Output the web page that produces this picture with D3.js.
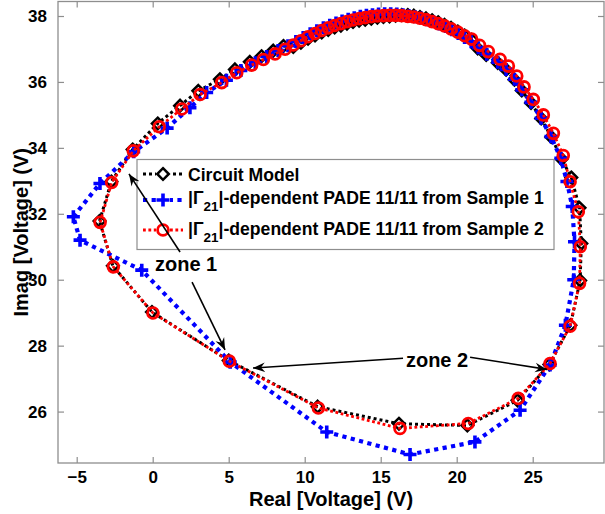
<!DOCTYPE html>
<html>
<head>
<meta charset="utf-8">
<script src="https://cdn.jsdelivr.net/npm/d3@7"></script>
<style>
  body { margin: 0; background: #fff; }
  svg { display: block; font-family: "Liberation Sans", Arial, Helvetica, sans-serif; font-weight: bold; }
</style>
</head>
<body>
<svg id="chart" width="605" height="514"></svg>
<script>
// Axis setup
const xTicks = [-5, 0, 5, 10, 15, 20, 25];
const yTicks = [26, 28, 30, 32, 34, 36, 38];
const xDomain = [-6.23, 29.69];
const yDomain = [24.44, 38.44];
const xLabel = "Real [Voltage] (V)";
const yLabel = "Imag [Voltage] (V)";

// Circuit model response (closed loop, real vs imaginary part)
const circuitX = [-3.50, -2.72, -1.32, 0.33, 1.80, 3.00, 4.42, 5.41, 6.39, 7.16, 7.93, 8.60,
  9.25, 9.75, 10.22, 10.68, 11.12, 11.55, 11.97, 12.38, 12.78, 13.18, 13.58, 13.98, 14.38, 14.78,
  15.18, 15.58, 15.98, 16.38, 16.78, 17.18, 17.58, 17.98, 18.38, 18.78, 19.20, 19.63, 20.07, 20.52,
  20.98, 21.38, 21.94, 22.70, 23.25, 23.80, 24.28, 24.89, 25.56, 26.22, 26.90, 27.54, 28.08, 28.20,
  28.12, 27.48, 26.10, 24.00, 20.70, 16.20, 10.85, 5.00, -0.05, -2.62];
const circuitY = [31.78, 32.98, 33.95, 34.74, 35.28, 35.73, 36.08, 36.38, 36.61, 36.78, 36.95, 37.09,
  37.06, 37.19, 37.31, 37.41, 37.50, 37.58, 37.65, 37.71, 37.77, 37.82, 37.86, 37.89, 37.92, 37.95,
  37.97, 37.99, 38.01, 38.03, 38.03, 38.01, 37.97, 37.93, 37.87, 37.81, 37.73, 37.64, 37.53, 37.41,
  37.28, 37.02, 36.82, 36.58, 36.37, 36.07, 35.74, 35.36, 34.89, 34.33, 33.66, 33.10, 32.18, 31.10,
  29.98, 28.62, 27.43, 26.34, 25.58, 25.63, 26.15, 27.55, 29.02, 30.42];

// PADE 11/11 fitted from sample 1
const sample1X = [-5.22, -3.47, -1.25, 0.95, 2.45, 3.55, 4.85, 5.80, 6.75, 7.50, 8.25, 8.90,
  9.42, 9.90, 10.36, 10.80, 11.23, 11.65, 12.06, 12.46, 12.86, 13.26, 13.66, 14.06, 14.46, 14.86,
  15.26, 15.66, 16.06, 16.46, 16.86, 17.26, 17.66, 18.06, 18.46, 18.86, 19.27, 19.68, 20.10, 20.52,
  20.95, 21.42, 21.98, 22.70, 23.25, 23.80, 24.28, 24.88, 25.55, 26.20, 26.85, 27.25, 27.60, 27.75,
  27.70, 27.15, 26.14, 24.17, 21.20, 16.93, 11.45, 5.10, -0.72, -4.78];
const sample1Y = [31.91, 32.92, 33.88, 34.60, 35.22, 35.68, 36.05, 36.35, 36.58, 36.77, 36.95, 37.10,
  37.23, 37.35, 37.46, 37.55, 37.64, 37.72, 37.79, 37.85, 37.90, 37.95, 37.99, 38.02, 38.04, 38.06,
  38.07, 38.07, 38.06, 38.04, 38.01, 37.98, 37.94, 37.89, 37.83, 37.76, 37.68, 37.58, 37.47, 37.35,
  37.22, 37.04, 36.84, 36.60, 36.38, 36.08, 35.76, 35.38, 34.90, 34.34, 33.68, 32.98, 32.22, 31.15,
  30.00, 28.62, 27.41, 26.04, 25.08, 24.70, 25.38, 27.50, 30.29, 31.20];

// PADE 11/11 fitted from sample 2
const sample2X = [-3.46, -2.70, -1.28, 0.43, 1.91, 3.12, 4.54, 5.53, 6.51, 7.28, 8.05, 8.71,
  9.25, 9.75, 10.22, 10.68, 11.12, 11.55, 11.97, 12.38, 12.78, 13.18, 13.58, 13.98, 14.38, 14.78,
  15.18, 15.58, 15.98, 16.38, 16.78, 17.18, 17.58, 17.98, 18.38, 18.78, 19.20, 19.63, 20.07, 20.52,
  20.98, 21.50, 22.08, 22.85, 23.40, 23.95, 24.43, 25.04, 25.70, 26.36, 27.01, 27.46, 28.00, 28.13,
  28.08, 27.46, 26.14, 24.05, 20.76, 16.27, 10.90, 5.04, 0.02, -2.59];
const sample2Y = [31.74, 32.95, 33.91, 34.64, 35.18, 35.62, 35.98, 36.28, 36.51, 36.68, 36.85, 36.99,
  37.12, 37.25, 37.37, 37.47, 37.56, 37.64, 37.71, 37.77, 37.83, 37.88, 37.92, 37.95, 37.98, 38.00,
  38.01, 38.02, 38.02, 38.01, 37.99, 37.97, 37.93, 37.89, 37.83, 37.77, 37.70, 37.61, 37.51, 37.40,
  37.30, 37.11, 36.92, 36.69, 36.48, 36.18, 35.85, 35.47, 35.00, 34.44, 33.77, 32.97, 32.06, 31.00,
  29.89, 28.59, 27.46, 26.40, 25.64, 25.49, 26.11, 27.53, 28.99, 30.39];

const legendPrefix = ["Circuit Model", "|\u0393", "|\u0393"];
const legendSub = ["", "21", "21"];
const legendSuffix = ["", "|-dependent PADE 11/11 from Sample 1", "|-dependent PADE 11/11 from Sample 2"];

const zoneLabels = ["zone 1", "zone 2"];

// ----- drawing -----
const svg = d3.select("#chart");
const W = 605, H = 514;
const plot = { left: 58, right: 604, top: 1.5, bottom: 463 };
const axisGray = "#8e8e8e";

const x = d3.scaleLinear().domain(xDomain).range([plot.left, plot.right]);
const y = d3.scaleLinear().domain(yDomain).range([plot.bottom, plot.top]);

svg.append("rect").attr("width", W).attr("height", H).attr("fill", "#fff");

// Axes with inward ticks on all four sides
const tickLen = 6;
const axes = svg.append("g");
axes.append("g").attr("transform", `translate(0,${plot.bottom})`)
  .call(d3.axisBottom(x).tickValues(xTicks).tickSizeInner(-tickLen).tickSizeOuter(0).tickPadding(8).tickFormat(d3.format("d")));
axes.append("g").attr("transform", `translate(0,${plot.top})`)
  .call(d3.axisTop(x).tickValues(xTicks).tickSizeInner(-tickLen).tickSizeOuter(0).tickFormat(""));
axes.append("g").attr("transform", `translate(${plot.left},0)`)
  .call(d3.axisLeft(y).tickValues(yTicks).tickSizeInner(-tickLen).tickSizeOuter(0).tickPadding(11).tickFormat(d3.format("d")));
axes.append("g").attr("transform", `translate(${plot.right},0)`)
  .call(d3.axisRight(y).tickValues(yTicks).tickSizeInner(-tickLen).tickSizeOuter(0).tickFormat(""));
axes.selectAll(".domain").remove();
axes.selectAll(".tick line").attr("stroke", axisGray).attr("stroke-width", 1.2);
axes.selectAll(".tick text").attr("fill", "#000").attr("font-size", 17).attr("font-weight", "bold")
  .attr("font-family", "'Liberation Sans', Arial, Helvetica, sans-serif");
svg.append("rect")
  .attr("x", plot.left).attr("y", plot.top)
  .attr("width", plot.right - plot.left).attr("height", plot.bottom - plot.top)
  .attr("fill", "none").attr("stroke", axisGray).attr("stroke-width", 1.3);

// Axis titles
svg.append("text").attr("x", (plot.left + plot.right) / 2).attr("y", 506)
  .attr("text-anchor", "middle").attr("font-size", 20).text(xLabel);
svg.append("text").attr("transform", `translate(28,${(plot.top + plot.bottom) / 2}) rotate(-90)`)
  .attr("text-anchor", "middle").attr("font-size", 20).text(yLabel);

// Marker shapes
const diamondPath = r => `M0,${-r}L${r},0L0,${r}L${-r},0Z`;
const plusPath = r => `M${-r},0H${r}M0,${-r}V${r}`;

const series = [
  { xs: circuitX, ys: circuitY, color: "#000", width: 3, dash: "3,3", marker: "diamond" },
  { xs: sample1X, ys: sample1Y, color: "#0000ff", width: 4.2, dash: "4.2,4.4", marker: "plus" },
  { xs: sample2X, ys: sample2Y, color: "#ff0000", width: 2.8, dash: "2.8,2.6", marker: "circle" }
];

function drawMarker(g, kind, color) {
  if (kind === "diamond") {
    g.append("path").attr("d", diamondPath(5.8)).attr("fill", "none").attr("stroke", color).attr("stroke-width", 2.5);
  } else if (kind === "plus") {
    g.append("path").attr("d", plusPath(6.5)).attr("fill", "none").attr("stroke", color).attr("stroke-width", 3.6);
  } else {
    g.append("circle").attr("r", 5.4).attr("fill", "none").attr("stroke", color).attr("stroke-width", 2.8);
  }
}

const line = d3.line().x(d => x(d[0])).y(d => y(d[1])).curve(d3.curveLinearClosed);

series.forEach(s => {
  const pts = s.xs.map((v, i) => [v, s.ys[i]]);
  const g = svg.append("g");
  g.append("path").datum(pts).attr("d", line)
    .attr("fill", "none").attr("stroke", s.color).attr("stroke-width", s.width)
    .attr("stroke-dasharray", s.dash);
  pts.forEach(p => {
    const m = g.append("g").attr("transform", `translate(${x(p[0])},${y(p[1])})`);
    drawMarker(m, s.marker, s.color);
  });
});

// Legend
const leg = svg.append("g");
leg.append("rect").attr("x", 137).attr("y", 159.5).attr("width", 417).attr("height", 90)
  .attr("fill", "#fff").attr("stroke", axisGray).attr("stroke-width", 1.2);
const rowMarkY = [174, 200, 230];
const rowTextY = [180.5, 203.5, 234.5];
series.forEach((s, i) => {
  leg.append("line").attr("x1", 143).attr("x2", 183).attr("y1", rowMarkY[i]).attr("y2", rowMarkY[i])
    .attr("stroke", s.color).attr("stroke-width", s.width).attr("stroke-dasharray", s.dash);
  const m = leg.append("g").attr("transform", `translate(163,${rowMarkY[i]})`);
  m.append("rect").attr("x", -7).attr("y", -7).attr("width", 14).attr("height", 14).attr("fill", "#fff");
  drawMarker(m, s.marker, s.color);
  const t = leg.append("text").attr("x", 188).attr("y", rowTextY[i]).attr("font-size", 17.6);
  t.append("tspan").text(legendPrefix[i]);
  if (legendSub[i]) {
    t.append("tspan").attr("font-size", 13.5).attr("dy", 7).text(legendSub[i]);
    t.append("tspan").attr("dy", -7).text(legendSuffix[i]);
  }
});

// Annotations: zone labels with arrows
const defs = svg.append("defs");
defs.append("marker").attr("id", "arrowHead").attr("viewBox", "-12 -6 14 12")
  .attr("refX", 0).attr("refY", 0).attr("markerWidth", 14).attr("markerHeight", 12)
  .attr("markerUnits", "userSpaceOnUse").attr("orient", "auto")
  .append("path").attr("d", "M0,0L-12,-4.8L-8,0L-12,4.8Z").attr("fill", "#000");

const arrows = [
  [[1.80, 30.84], [-1.56, 33.21]],
  [[2.59, 29.93], [4.76, 27.87]],
  [[16.47, 27.62], [6.60, 27.32]],
  [[20.88, 27.65], [25.94, 27.28]]
];
arrows.forEach(a => {
  svg.append("line")
    .attr("x1", x(a[0][0])).attr("y1", y(a[0][1]))
    .attr("x2", x(a[1][0])).attr("y2", y(a[1][1]))
    .attr("stroke", "#000").attr("stroke-width", 1.6)
    .attr("marker-end", "url(#arrowHead)");
});
const zonePos = [[0.15, 30.26], [16.66, 27.35]];
zoneLabels.forEach((lbl, i) => {
  svg.append("text").attr("x", x(zonePos[i][0])).attr("y", y(zonePos[i][1]))
    .attr("font-size", 20).text(lbl);
});
</script>
</body>
</html>
